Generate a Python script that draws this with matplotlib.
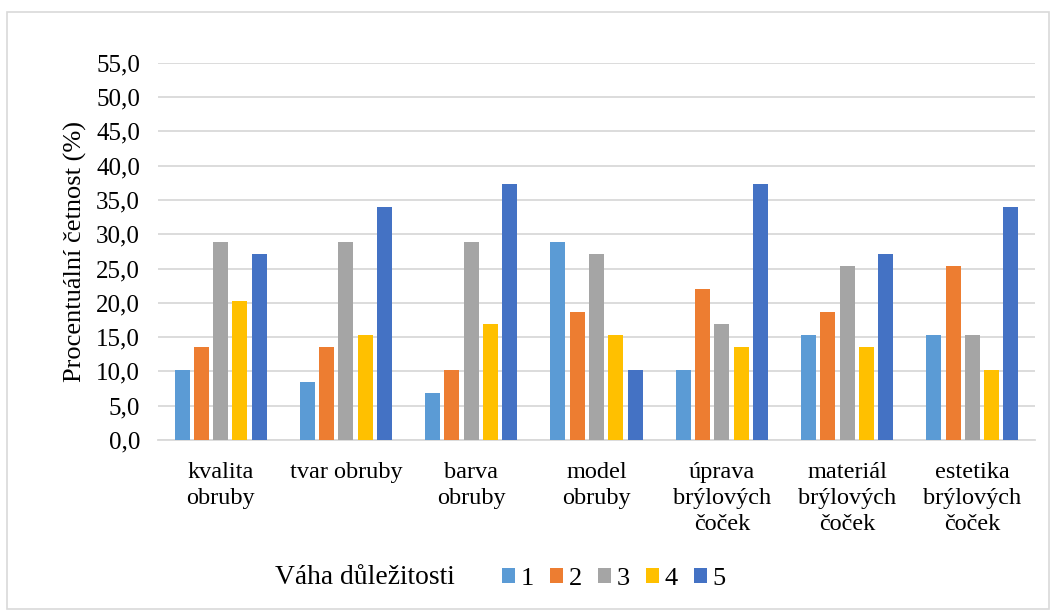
import matplotlib
matplotlib.use("Agg")
import matplotlib.pyplot as plt
from matplotlib.patches import Patch, Rectangle
import numpy as np

plt.rcParams['font.family'] = ['Liberation Serif', 'DejaVu Serif']

categories = ["kvalita\nobruby", "tvar obruby", "barva\nobruby", "model\nobruby",
              "úprava\nbrýlových\nčoček", "materiál\nbrýlových\nčoček",
              "estetika\nbrýlových\nčoček"]
series_names = ["1", "2", "3", "4", "5"]
w1 = [10.2, 8.5, 6.8, 28.8, 10.2, 15.3, 15.3]
w2 = [13.6, 13.6, 10.2, 18.6, 22.0, 18.6, 25.4]
w3 = [28.8, 28.8, 28.8, 27.1, 16.9, 25.4, 15.3]
w4 = [20.3, 15.3, 16.9, 15.3, 13.6, 13.6, 10.2]
w5 = [27.1, 33.9, 37.3, 10.2, 37.3, 27.1, 33.9]
yticks = np.arange(0, 55.1, 5)
colors = ["#5B9BD5", "#ED7D31", "#A5A5A5", "#FFC000", "#4472C4"]
grid_color = "#D9D9D9"

W, H = 1056, 610
fig = plt.figure(figsize=(W / 100, H / 100), dpi=100)
ax = fig.add_axes([158 / W, (H - 440) / H, 877 / W, 377.3 / H])

x = np.arange(len(categories))
slot = 0.154
bar_w = 0.12
for i, (vals, col) in enumerate(zip([w1, w2, w3, w4, w5], colors)):
    ax.bar(x + (i - 2) * slot, vals, width=bar_w, color=col, zorder=3,
           label=series_names[i])

ax.set_xlim(-0.5, len(categories) - 0.5)
ax.set_ylim(0, 55)
ax.set_yticks(yticks)
ax.set_yticklabels([f"{v:.1f}".replace(".", ",") for v in yticks], fontsize=18)
ax.set_xticks(x)
ax.set_xticklabels(categories, fontsize=17.5, linespacing=1.3)
ax.tick_params(axis='both', length=0)
ax.tick_params(axis='x', pad=16)
ax.tick_params(axis='y', pad=13)
ax.yaxis.grid(True, color=grid_color, linewidth=1.3, zorder=0)
ax.set_axisbelow(True)
for side in ["left", "right", "top"]:
    ax.spines[side].set_visible(False)
ax.spines["bottom"].set_color(grid_color)
ax.spines["bottom"].set_linewidth(1.3)

ax.set_ylabel("Procentuální četnost (%)", fontsize=19)
ax.yaxis.set_label_coords((87 - 158) / 877, 0.5)

# legend with its caption placed to the left
fig.text(275 / W, 1 - 577 / H, "Váha důležitosti", fontsize=19.8,
         ha="left", va="center")
handles = [Patch(facecolor=c, edgecolor="none") for c in colors]
fig.legend(handles, series_names, loc="center left",
           bbox_to_anchor=(502 / W, 1 - 579 / H), ncol=5, frameon=False,
           fontsize=19, handlelength=0.5, handleheight=0.5,
           handletextpad=0.2, columnspacing=0.62, borderpad=0,
           borderaxespad=0)

# outer chart frame
fig.patches.append(Rectangle((7 / W, 1 - 609 / H), (1049 - 7) / W, (609 - 12) / H,
                             transform=fig.transFigure, fill=False,
                             edgecolor=grid_color, linewidth=1.2))

fig.savefig("out.png", dpi=100, facecolor="white")
